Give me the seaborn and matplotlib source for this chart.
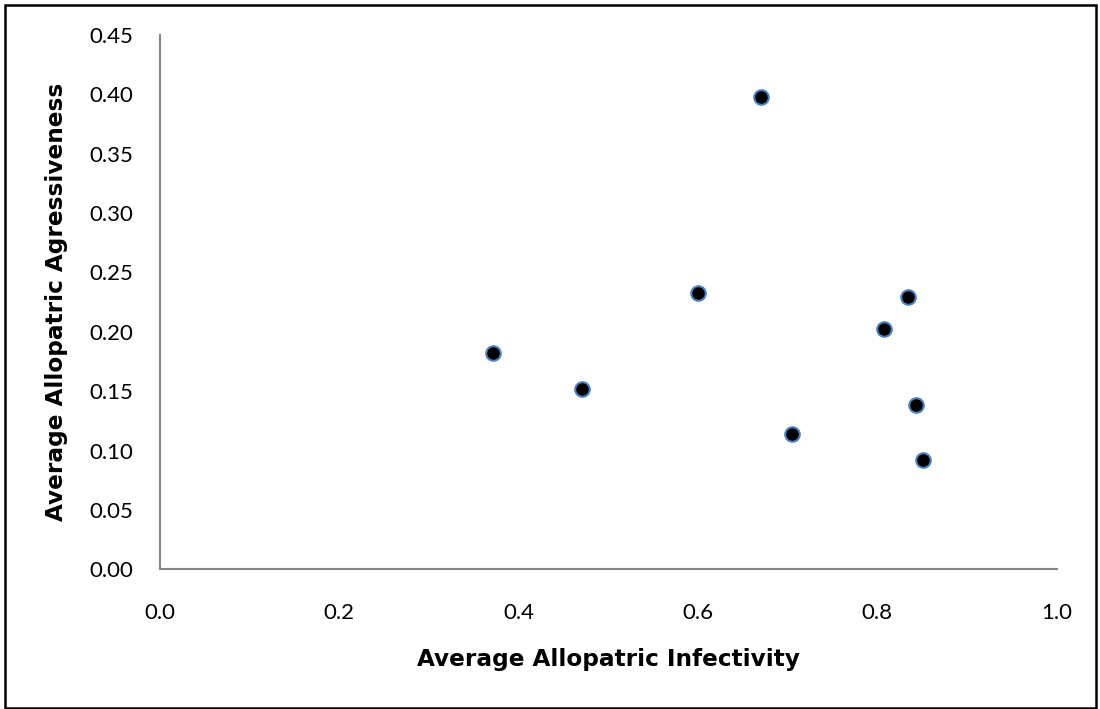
"""
Average allopatric infectivity vs. aggressiveness – scatter plot.
"""
import numpy as np
import pandas as pd
import matplotlib
matplotlib.use('Agg')
import matplotlib.pyplot as plt
from matplotlib.patches import Rectangle
import seaborn as sns

# data
infectivity = [0.371, 0.471, 0.600, 0.670, 0.705, 0.807, 0.834, 0.843, 0.851]
aggressiveness = [0.182, 0.152, 0.233, 0.398, 0.114, 0.202, 0.229, 0.138, 0.092]

x_ticks = [0.0, 0.2, 0.4, 0.6, 0.8, 1.0]
y_ticks = [0.00, 0.05, 0.10, 0.15, 0.20, 0.25, 0.30, 0.35, 0.40, 0.45]

AXIS_GREY = '#868686'
EDGE_BLUE = '#4F81BD'

df = pd.DataFrame({'infectivity': infectivity, 'aggressiveness': aggressiveness})

sns.set_style('white')
plt.rcParams['font.family'] = ['Lato', 'DejaVu Sans']
plt.rcParams['text.color'] = 'black'
plt.rcParams['axes.labelcolor'] = 'black'

fig = plt.figure(figsize=(11, 7.09), dpi=100)
ax = fig.add_axes([160 / 1100, 1 - 569.3 / 709, (1056.7 - 160) / 1100, (569.3 - 35) / 709])

sns.scatterplot(data=df, x='infectivity', y='aggressiveness', ax=ax,
                color='black', edgecolor=EDGE_BLUE, linewidth=1.5, s=110,
                zorder=3, legend=False)

ax.set_xlim(0, 1.0)
ax.set_ylim(0, 0.45)
ax.set_xticks(x_ticks)
ax.set_yticks(y_ticks)
ax.set_xticklabels([f'{t:.1f}' for t in x_ticks])
ax.set_yticklabels([f'{t:.2f}' for t in y_ticks])

for side in ['top', 'right']:
    ax.spines[side].set_visible(False)
for side in ['left', 'bottom']:
    ax.spines[side].set_color(AXIS_GREY)
    ax.spines[side].set_linewidth(1.5)

ax.tick_params(axis='both', which='major', direction='out', length=7, width=1.5,
               color=AXIS_GREY, labelsize=16, labelcolor='black')
ax.tick_params(axis='x', pad=17)
ax.tick_params(axis='y', pad=12)
ax.grid(False)

ax.set_xlabel('Average Allopatric Infectivity', fontsize=16.7, fontweight='bold',
              family='DejaVu Sans', color='black', labelpad=18)
ax.set_ylabel('Average Allopatric Agressiveness', fontsize=16.7, fontweight='bold',
              family='DejaVu Sans', color='black', labelpad=16)

# outer chart border
fig.patches.append(Rectangle((5 / 1100, 1 / 709), 1091 / 1100, 703 / 709,
                             transform=fig.transFigure, fill=False,
                             edgecolor='black', linewidth=1.8))

plt.savefig('out.png', dpi=100)
plt.close()
